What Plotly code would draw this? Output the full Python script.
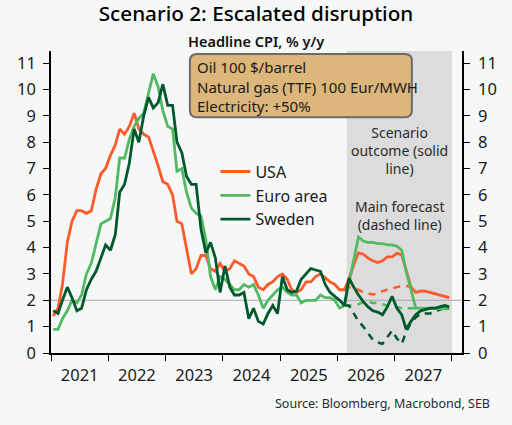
import pandas as pd
import plotly.graph_objects as go

# monthly data, mid-month points
hist_dates = pd.date_range("2021-01-01", "2026-02-01", freq="MS") + pd.Timedelta(days=14)
fc_dates = pd.date_range("2026-03-01", "2027-12-01", freq="MS") + pd.Timedelta(days=14)

usa_hist = [1.4, 1.7, 2.6, 4.2, 5.0, 5.4, 5.4, 5.3, 5.4, 6.2, 6.8, 7.0,
            7.5, 7.9, 8.5, 8.3, 8.6, 9.1, 8.5, 8.3, 8.2, 7.7, 7.1, 6.5,
            6.4, 6.0, 5.0, 4.9, 4.0, 3.0, 3.2, 3.7, 3.7, 3.2, 3.1, 3.4,
            3.1, 3.2, 3.5, 3.4, 3.3, 3.0, 2.9, 2.5, 2.4, 2.6, 2.7, 2.9,
            3.0, 2.8, 2.4, 2.3, 2.4, 2.7, 2.7, 2.9, 3.0, 2.85, 2.7, 2.6,
            2.4, 2.4]
euro_hist = [0.9, 0.9, 1.3, 1.6, 2.0, 1.9, 2.2, 3.0, 3.4, 4.1, 4.9, 5.0,
             5.1, 5.9, 7.4, 7.4, 8.1, 8.6, 8.9, 9.1, 9.9, 10.6, 10.1, 9.2,
             8.6, 8.5, 6.9, 7.0, 6.1, 5.5, 5.3, 5.2, 4.3, 2.9, 2.4, 2.9,
             2.8, 2.6, 2.4, 2.4, 2.6, 2.5, 2.6, 2.2, 1.7, 2.0, 2.2, 2.4,
             2.5, 2.3, 2.2, 2.2, 1.9, 2.0, 2.0, 2.0, 2.2, 2.1, 2.1, 2.0,
             1.7, 1.8]
sweden_hist = [1.6, 1.5, 2.0, 2.5, 2.1, 1.6, 1.7, 2.4, 2.8, 3.1, 3.6, 4.1,
               3.9, 4.5, 6.1, 6.4, 7.2, 8.5, 8.0, 9.0, 9.7, 9.3, 9.5, 10.2,
               9.4, 9.4, 8.0, 7.6, 6.7, 6.4, 6.4, 4.7, 3.8, 4.2, 3.6, 2.3,
               3.3, 2.5, 2.2, 2.2, 2.3, 1.3, 1.7, 1.2, 1.1, 1.5, 1.8, 1.5,
               2.9, 2.4, 2.3, 2.35, 2.8, 3.0, 3.2, 3.15, 3.1, 2.6, 2.3, 2.15,
               2.0, 1.8]

# scenario outcome (solid), Mar 2026 - Dec 2027
usa_scen = [2.8, 3.35, 3.8, 3.75, 3.6, 3.5, 3.43, 3.5, 3.65, 3.65, 3.78, 3.72,
            3.1, 2.5, 2.3, 2.35, 2.35, 2.3, 2.25, 2.2, 2.15, 2.1]
euro_scen = [2.65, 3.5, 4.4, 4.25, 4.2, 4.2, 4.15, 4.15, 4.1, 4.1, 4.05, 3.9,
             3.1, 2.4, 1.7, 1.7, 1.7, 1.7, 1.7, 1.7, 1.7, 1.68]
sweden_scen = [2.85, 2.5, 2.2, 1.95, 1.75, 1.6, 1.55, 1.45, 1.75, 2.15, 1.7, 1.45,
               0.9, 1.2, 1.45, 1.6, 1.65, 1.7, 1.7, 1.75, 1.8, 1.75]

# main forecast (dashed)
usa_main = [2.5, 2.45, 2.4, 2.3, 2.25, 2.22, 2.25, 2.35, 2.4, 2.45, 2.5, 2.55,
            2.55, 2.5, 2.3, 2.35, 2.35, 2.3, 2.25, 2.2, 2.15, 2.1]
euro_main = [1.8, 1.8, 1.85, 1.95, 1.95, 1.9, 1.9, 1.85, 1.8, 1.8, 1.75, 1.7,
             1.7, 1.7, 1.7, 1.7, 1.7, 1.7, 1.7, 1.7, 1.7, 1.68]
sweden_main = [1.8, 1.5, 1.2, 1.0, 0.75, 0.5, 0.4, 0.35, 0.6, 0.85, 0.55, 0.35,
               0.8, 1.15, 1.35, 1.5, 1.5, 1.5, 1.55, 1.65, 1.7, 1.75]

series = [
    ("USA", usa_hist, usa_scen, usa_main, "#ff5a2a"),
    ("Euro area", euro_hist, euro_scen, euro_main, "#52b963"),
    ("Sweden", sweden_hist, sweden_scen, sweden_main, "#00582d"),
]

FONT = "Noto Sans"
INK = "#1a1a1a"

fig = go.Figure()

hist_x = list(hist_dates)
fc_x = list(fc_dates)

# dashed main forecast lines first, so solid lines sit on top
for name, hist, scen, main, color in series:
    fig.add_trace(go.Scatter(
        x=[hist_x[-1]] + fc_x, y=[hist[-1]] + main,
        mode="lines", line=dict(color=color, width=2.5, dash="7px,6px"),
        showlegend=False, hoverinfo="skip",
    ))

for name, hist, scen, main, color in series:
    fig.add_trace(go.Scatter(
        x=hist_x + fc_x, y=hist + scen,
        mode="lines", name=name,
        line=dict(color=color, width=2.8),
    ))

# invisible copy on the right-hand axis so it gets drawn
fig.add_trace(go.Scatter(x=hist_x, y=usa_hist, yaxis="y2", mode="lines",
                         line=dict(width=0, color="rgba(0,0,0,0)"),
                         showlegend=False, hoverinfo="skip"))

# forecast shading
fig.add_shape(type="rect", xref="x", yref="paper",
              x0="2026-03-01", x1="2028-01-01", y0=0, y1=1,
              fillcolor="#dcdcdc", line_width=0, layer="below")
# 2 % reference line
fig.add_shape(type="line", xref="paper", yref="y", x0=0, x1=1, y0=2, y1=2,
              line=dict(color="#a8a8a8", width=1), layer="below")

# rounded box for the scenario assumptions
bx0, bx1, by0, by1 = 0.338, 0.878, 0.781, 0.990
rx, ry = 7 / 411, 7 / 302
box_path = (f"M{bx0+rx},{by1} L{bx1-rx},{by1} Q{bx1},{by1} {bx1},{by1-ry} "
            f"L{bx1},{by0+ry} Q{bx1},{by0} {bx1-rx},{by0} "
            f"L{bx0+rx},{by0} Q{bx0},{by0} {bx0},{by0+ry} "
            f"L{bx0},{by1-ry} Q{bx0},{by1} {bx0+rx},{by1} Z")
fig.add_shape(type="path", xref="paper", yref="paper", path=box_path,
              fillcolor="#dcb67a", line=dict(color="#6b6b6b", width=2), layer="above")

fig.add_annotation(xref="paper", yref="paper", x=0.350, y=0.884,
                   xanchor="left", yanchor="middle", align="left", showarrow=False,
                   text="Oil 100 $/barrel<br>Natural gas (TTF) 100 Eur/MWH<br>Electricity: +50%",
                   font=dict(family=FONT, size=15, color=INK))

fig.add_annotation(xref="paper", yref="paper", x=0.848, y=0.672,
                   xanchor="center", yanchor="middle", align="center", showarrow=False,
                   text="Scenario<br>outcome (solid<br>line)",
                   font=dict(family=FONT, size=14, color="#2a2a2a"))
fig.add_annotation(xref="paper", yref="paper", x=0.848, y=0.454,
                   xanchor="center", yanchor="middle", align="center", showarrow=False,
                   text="Main forecast<br>(dashed line)",
                   font=dict(family=FONT, size=14, color="#2a2a2a"))

fig.add_annotation(xref="paper", yref="paper", x=0.499, y=1.033,
                   xanchor="center", yanchor="middle", showarrow=False,
                   text="Headline CPI, % y/y",
                   font=dict(family=FONT, size=14.5, color="#111111", weight=600))

fig.add_annotation(xref="paper", yref="paper", x=1.073, y=-0.166,
                   xanchor="right", yanchor="middle", showarrow=False,
                   text="Source: Bloomberg, Macrobond, SEB",
                   font=dict(family=FONT, size=12.5, color="#2a2a2a"))

axis_font = dict(family=FONT, size=16.5, color=INK)

fig.update_layout(
    width=512, height=425,
    margin=dict(l=51, r=50, t=51, b=72, autoexpand=False),
    paper_bgcolor="#f6f8f8", plot_bgcolor="#f6f8f8",
    font=dict(family=FONT, color=INK),
    title=dict(text="Scenario 2: Escalated disruption", x=0.5, xref="container",
               xanchor="center", y=1 - 14 / 425, yref="container", yanchor="middle",
               font=dict(family=FONT, size=20.7, color="#000000", weight=500)),
    showlegend=True,
    legend=dict(x=0.40, y=0.657, xanchor="left", yanchor="top",
                bgcolor="rgba(0,0,0,0)", font=dict(family=FONT, size=16, color=INK)),
    xaxis=dict(type="date", range=["2021-01-01", "2028-03-05"], automargin=False,
               tick0="2021-01-01", dtick="M12", tickformat="%Y", ticklabelmode="period",
               ticks="outside", ticklen=6, tickcolor="#000", tickwidth=1.2,
               showline=True, linecolor="#000", linewidth=1.5,
               showgrid=False, zeroline=False, tickfont=axis_font),
    yaxis=dict(range=[0, 11.46], dtick=1, tick0=0, automargin=False,
               ticks="outside", ticklen=6, tickcolor="#000", tickwidth=1.2,
               showline=True, linecolor="#000", linewidth=1.5,
               showgrid=False, zeroline=False, tickfont=axis_font,
               ticklabelstandoff=4),
    yaxis2=dict(range=[0, 11.46], dtick=1, tick0=0, overlaying="y", side="right",
                anchor="x", automargin=False,
                ticks="outside", ticklen=6, tickcolor="#000", tickwidth=1.2,
                showline=True, linecolor="#000", linewidth=1.5,
                showgrid=False, zeroline=False, tickfont=axis_font,
                ticklabelstandoff=5),
)

# drop the browser's default 8px page margin so the figure sits at the window corner
fig.write_html("out.html", config={"displayModeBar": False},
               post_script="document.body.style.margin='0';")
